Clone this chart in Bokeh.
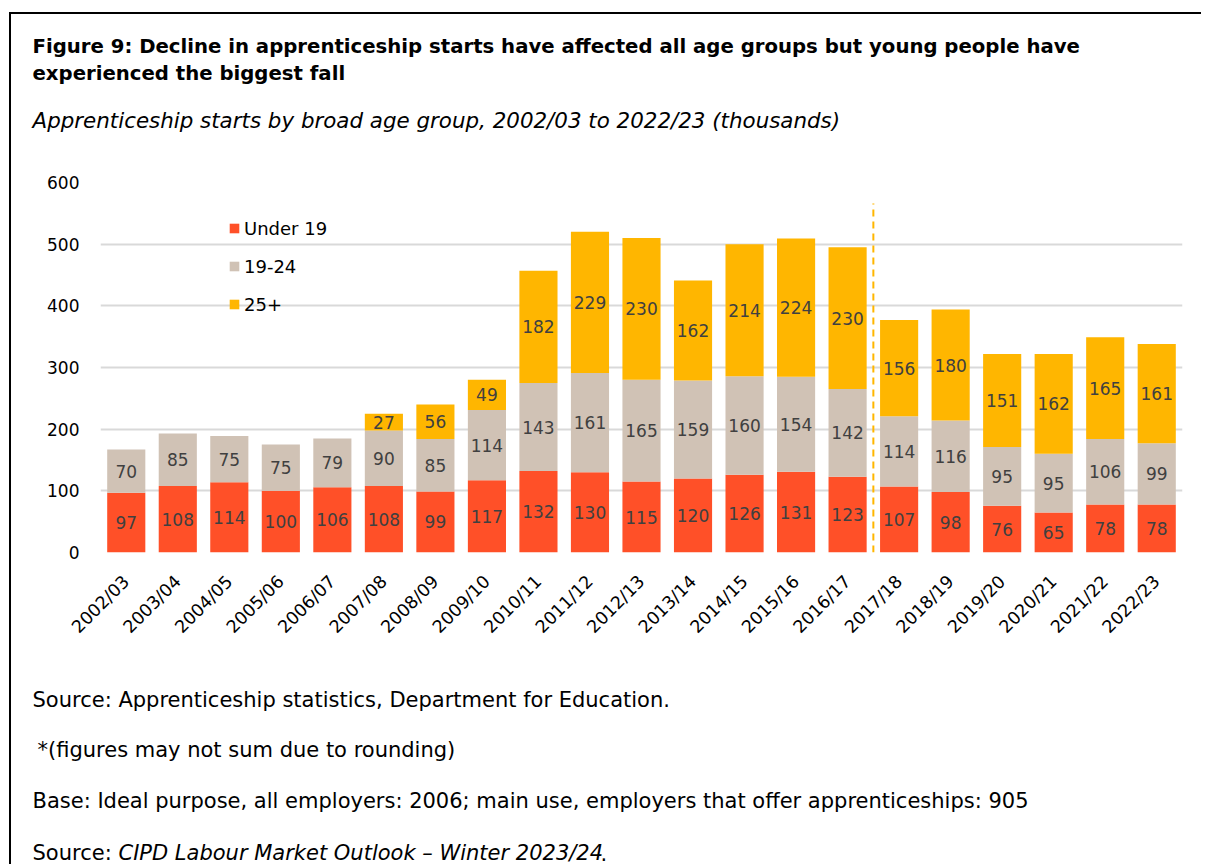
import math
from bokeh.plotting import figure
from bokeh.layouts import column
from bokeh.models import (ColumnDataSource, FactorRange, Range1d, Label, LabelSet,
                          Legend, LegendItem, FixedTicker)
from bokeh.core.properties import value
from bokeh.embed import file_html
from bokeh.resources import INLINE

# ---------------- data ----------------
years = ["2002/03", "2003/04", "2004/05", "2005/06", "2006/07", "2007/08", "2008/09",
         "2009/10", "2010/11", "2011/12", "2012/13", "2013/14", "2014/15", "2015/16",
         "2016/17", "2017/18", "2018/19", "2019/20", "2020/21", "2021/22", "2022/23"]
under_19 = [97, 108, 114, 100, 106, 108, 99, 117, 132, 130, 115, 120, 126, 131, 123,
            107, 98, 76, 65, 78, 78]
age_19_24 = [70, 85, 75, 75, 79, 90, 85, 114, 143, 161, 165, 159, 160, 154, 142,
             114, 116, 95, 95, 106, 99]
age_25_plus = [0, 0, 0, 0, 0, 27, 56, 49, 182, 229, 230, 162, 214, 224, 230,
               156, 180, 151, 162, 165, 161]
series_names = ["Under 19", "19-24", "25+"]
y_ticks = [0, 100, 200, 300, 400, 500, 600]
divider_after = "2016/17"
divider_top = 566

title_lines = ["Figure 9: Decline in apprenticeship starts have affected all age groups but young people have",
               "experienced the biggest fall"]
subtitle = "Apprenticeship starts by broad age group, 2002/03 to 2022/23 (thousands)"
footer_1 = "Source: Apprenticeship statistics, Department for Education."
footer_2 = "*(figures may not sum due to rounding)"
footer_3 = "Base: Ideal purpose, all employers: 2006; main use, employers that offer apprenticeships: 905"
footer_4a = "Source: "
footer_4b = "CIPD Labour Market Outlook \u2013 Winter 2023/24"
footer_4c = "."

# ---------------- style / layout ----------------
COLORS = ["#FF5028", "#D0C2B5", "#FFB600"]
FONT = "DejaVu Sans"
W = 1190
OX, OY = 11, 14            # canvas origin in picture coordinates (margin + border)
HEAD_BOTTOM = 164          # picture y where the chart figure starts
CHART_BOTTOM = 655         # picture y where the footer figure starts
PAGE_BOTTOM = 864
FL, FR, FT, FB = 100, 1182, 182, 552   # plot frame in picture coordinates


def no_align(f):
    if "frame_align" in f.properties():
        f.frame_align = False
    return f


def text_fig(top, bottom):
    h = bottom - top
    f = figure(width=W, height=h, x_range=Range1d(0, W), y_range=Range1d(0, h),
               output_backend="svg", toolbar_location=None, min_border=0,
               min_border_left=0, min_border_right=0, min_border_top=0, min_border_bottom=0,
               x_axis_location=None, y_axis_location=None,
               background_fill_color="white", border_fill_color="white")
    f.outline_line_color = None
    f.grid.visible = False
    return no_align(f)


def add_text(f, bottom, text, ix, iy, size, style="normal"):
    f.add_layout(Label(x=ix - OX, y=bottom - iy, x_units="screen", y_units="screen", text=text,
                       text_font=FONT, text_font_size=size, text_font_style=style,
                       text_color="black", text_baseline="alphabetic", text_align="left"))


# header
head = text_fig(OY, HEAD_BOTTOM)
add_text(head, HEAD_BOTTOM, title_lines[0], 32, 46, "19.7px", "bold")
add_text(head, HEAD_BOTTOM, title_lines[1], 32, 73, "19.7px", "bold")
add_text(head, HEAD_BOTTOM, subtitle, 32, 120, "21.4px", "italic")

# chart
ch_h = CHART_BOTTOM - HEAD_BOTTOM
p = figure(x_range=FactorRange(factors=years, range_padding=0),
           y_range=Range1d(0, 600),
           width=W, height=ch_h, output_backend="svg", toolbar_location=None,
           min_border_left=FL - OX, min_border_right=W - (FR - OX),
           min_border_top=FT - HEAD_BOTTOM, min_border_bottom=CHART_BOTTOM - FB,
           background_fill_color="white", border_fill_color="white")
p.outline_line_color = None
no_align(p)

source = ColumnDataSource(dict(year=years, u19=under_19, a1924=age_19_24, a25=age_25_plus))
renderers = p.vbar_stack(["u19", "a1924", "a25"], x="year", width=0.74, color=COLORS,
                         line_color=None, source=source)

lx, ly, lt = [], [], []
for i, yr in enumerate(years):
    base = 0
    for vals in (under_19, age_19_24, age_25_plus):
        v = vals[i]
        if v > 0:
            lx.append(yr)
            ly.append(base + v / 2)
            lt.append(str(v))
        base += v
labels = LabelSet(x="x", y="y", text="t", source=ColumnDataSource(dict(x=lx, y=ly, t=lt)),
                  text_align="center", text_baseline="middle",
                  text_font=value(FONT), text_font_size="17px", text_color="#404040")
p.add_layout(labels)

div_x = years.index(divider_after) + 1
p.segment(x0=[div_x], y0=[0], x1=[div_x], y1=[divider_top],
          line_color="#FFB600", line_width=2, line_dash="7 5")

p.yaxis.ticker = FixedTicker(ticks=y_ticks)
for ax in (p.xaxis[0], p.yaxis[0]):
    ax.axis_line_color = None
    ax.major_tick_line_color = None
    ax.minor_tick_line_color = None
    ax.major_tick_in = 0
    ax.major_tick_out = 0
    ax.major_label_text_font = FONT
    ax.major_label_text_color = "black"
p.yaxis.major_label_text_font_size = "17px"
p.yaxis.major_label_standoff = 21
p.xaxis.major_label_text_font_size = "17.5px"
p.xaxis.major_label_orientation = math.pi / 4
p.xaxis.major_label_standoff = 26
p.ygrid.grid_line_color = "#D9D9D9"
p.ygrid.grid_line_width = 2
p.xgrid.grid_line_color = None

legend = Legend(items=[LegendItem(label=n, renderers=[r]) for n, r in zip(series_names, renderers)],
                location=(128, 236), orientation="vertical",
                glyph_width=12, glyph_height=12, label_standoff=4,
                label_height=24, spacing=14, padding=0, margin=0,
                label_text_font=FONT, label_text_font_size="18px", label_text_color="black",
                border_line_color=None, background_fill_alpha=0)
p.add_layout(legend)

# footer
foot = text_fig(CHART_BOTTOM, PAGE_BOTTOM)
add_text(foot, PAGE_BOTTOM, footer_1, 32, 699, "21px")
add_text(foot, PAGE_BOTTOM, footer_2, 37, 749, "21px")
add_text(foot, PAGE_BOTTOM, footer_3, 32, 800, "21px")
add_text(foot, PAGE_BOTTOM, footer_4a, 32, 852, "21px")
add_text(foot, PAGE_BOTTOM, footer_4b, 32 + 86, 852, "21px", "italic")
add_text(foot, PAGE_BOTTOM, footer_4c, 32 + 86 + 482, 852, "21px")

layout = column(head, p, foot, spacing=0,
                styles={"margin-left": "9px", "margin-top": "12px",
                        "border-top": "2px solid black", "border-left": "2px solid black"})

open("out.html", "w").write(file_html(layout, INLINE))
